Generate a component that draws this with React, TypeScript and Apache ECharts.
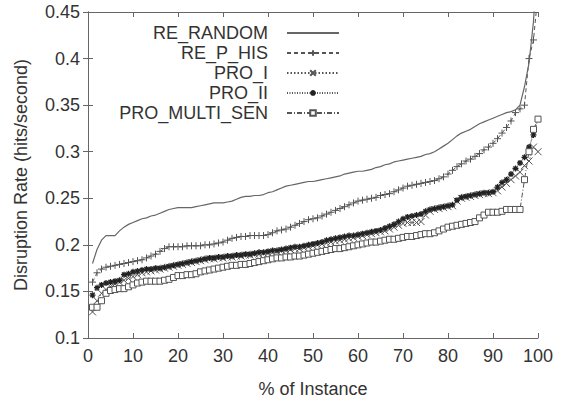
import React, { useEffect, useRef } from "react";
import * as echarts from "echarts";

const instancePct: number[] = Array.from({ length: 100 }, (_, i) => i + 1);

const reRandom: number[] = [
  0.180, 0.195, 0.205, 0.210, 0.210, 0.210, 0.215, 0.219, 0.222, 0.224,
  0.226, 0.228, 0.229, 0.231, 0.232, 0.234, 0.236, 0.238, 0.239, 0.240,
  0.240, 0.240, 0.240, 0.241, 0.242, 0.243, 0.244, 0.245, 0.245, 0.245,
  0.246, 0.247, 0.249, 0.251, 0.252, 0.252, 0.253, 0.253, 0.254, 0.256,
  0.257, 0.259, 0.261, 0.263, 0.264, 0.265, 0.266, 0.267, 0.268, 0.268,
  0.269, 0.270, 0.271, 0.272, 0.273, 0.274, 0.276, 0.277, 0.278, 0.279,
  0.279, 0.280, 0.281, 0.283, 0.284, 0.286, 0.287, 0.289, 0.290, 0.291,
  0.292, 0.293, 0.294, 0.295, 0.297, 0.298, 0.300, 0.303, 0.306, 0.309,
  0.313, 0.317, 0.320, 0.322, 0.324, 0.327, 0.330, 0.332, 0.334, 0.336,
  0.338, 0.340, 0.342, 0.343, 0.345, 0.350, 0.370, 0.395, 0.440, 0.520,
];

const rePHis: number[] = [
  0.160, 0.170, 0.174, 0.176, 0.177, 0.178, 0.179, 0.180, 0.181, 0.182,
  0.183, 0.184, 0.186, 0.188, 0.190, 0.193, 0.196, 0.198, 0.198, 0.198,
  0.198, 0.199, 0.199, 0.199, 0.199, 0.200, 0.200, 0.201, 0.202, 0.203,
  0.205, 0.207, 0.208, 0.209, 0.209, 0.210, 0.210, 0.210, 0.210, 0.211,
  0.213, 0.215, 0.216, 0.217, 0.219, 0.221, 0.223, 0.225, 0.227, 0.228,
  0.229, 0.231, 0.233, 0.235, 0.237, 0.239, 0.241, 0.243, 0.245, 0.247,
  0.248, 0.249, 0.250, 0.251, 0.253, 0.254, 0.255, 0.257, 0.259, 0.261,
  0.263, 0.264, 0.265, 0.266, 0.267, 0.268, 0.269, 0.271, 0.273, 0.276,
  0.280, 0.284, 0.287, 0.290, 0.292, 0.295, 0.298, 0.302, 0.305, 0.309,
  0.314, 0.320, 0.326, 0.333, 0.342, 0.346, 0.350, 0.400, 0.420, 0.470,
];

const proI: number[] = [
  0.128, 0.140, 0.148, 0.152, 0.155, 0.158, 0.160, 0.162, 0.164, 0.166,
  0.168, 0.170, 0.171, 0.172, 0.173, 0.174, 0.175, 0.176, 0.177, 0.178,
  0.179, 0.180, 0.181, 0.182, 0.183, 0.184, 0.185, 0.185, 0.186, 0.186,
  0.187, 0.187, 0.188, 0.188, 0.189, 0.189, 0.190, 0.190, 0.191, 0.191,
  0.192, 0.193, 0.194, 0.194, 0.195, 0.196, 0.196, 0.197, 0.198, 0.199,
  0.200, 0.201, 0.202, 0.203, 0.204, 0.205, 0.206, 0.207, 0.208, 0.209,
  0.210, 0.211, 0.212, 0.213, 0.214, 0.215, 0.217, 0.219, 0.221, 0.223,
  0.224, 0.224, 0.224, 0.225, 0.232, 0.236, 0.238, 0.239, 0.240, 0.241,
  0.242, 0.247, 0.250, 0.251, 0.252, 0.253, 0.254, 0.255, 0.255, 0.256,
  0.258, 0.262, 0.266, 0.270, 0.274, 0.278, 0.285, 0.290, 0.305, 0.300,
];

const proII: number[] = [
  0.146, 0.154, 0.157, 0.159, 0.160, 0.161, 0.162, 0.168, 0.169, 0.171,
  0.172, 0.173, 0.174, 0.174, 0.175, 0.175, 0.176, 0.177, 0.178, 0.179,
  0.180, 0.181, 0.182, 0.183, 0.184, 0.185, 0.186, 0.186, 0.187, 0.187,
  0.188, 0.188, 0.189, 0.189, 0.190, 0.190, 0.191, 0.192, 0.192, 0.193,
  0.194, 0.194, 0.195, 0.196, 0.197, 0.198, 0.198, 0.199, 0.200, 0.201,
  0.202, 0.203, 0.205, 0.206, 0.207, 0.208, 0.209, 0.210, 0.210, 0.211,
  0.212, 0.213, 0.214, 0.215, 0.216, 0.218, 0.220, 0.222, 0.225, 0.228,
  0.230, 0.231, 0.232, 0.233, 0.236, 0.238, 0.239, 0.240, 0.241, 0.242,
  0.243, 0.248, 0.251, 0.252, 0.253, 0.254, 0.255, 0.256, 0.256, 0.257,
  0.262, 0.267, 0.270, 0.276, 0.282, 0.288, 0.294, 0.305, 0.318, 0.335,
];

const proMultiSen: number[] = [
  0.133, 0.133, 0.140, 0.148, 0.151, 0.152, 0.153, 0.153, 0.155, 0.157,
  0.159, 0.160, 0.161, 0.161, 0.161, 0.161, 0.162, 0.163, 0.165, 0.167,
  0.167, 0.168, 0.168, 0.169, 0.171, 0.172, 0.173, 0.174, 0.175, 0.176,
  0.177, 0.178, 0.178, 0.179, 0.179, 0.180, 0.181, 0.182, 0.183, 0.184,
  0.185, 0.186, 0.186, 0.187, 0.187, 0.188, 0.188, 0.189, 0.190, 0.191,
  0.192, 0.193, 0.194, 0.195, 0.196, 0.196, 0.197, 0.198, 0.199, 0.200,
  0.201, 0.202, 0.203, 0.203, 0.204, 0.205, 0.206, 0.206, 0.207, 0.208,
  0.209, 0.209, 0.210, 0.211, 0.212, 0.212, 0.213, 0.215, 0.217, 0.219,
  0.220, 0.221, 0.222, 0.223, 0.224, 0.225, 0.229, 0.232, 0.235, 0.235,
  0.235, 0.236, 0.238, 0.238, 0.238, 0.238, 0.270, 0.300, 0.324, 0.335,
];

const seriesNames: string[] = ["RE_RANDOM", "RE_P_HIS", "PRO_I", "PRO_II", "PRO_MULTI_SEN"];
const xTicks = { min: 0, max: 100, interval: 10 };
const yTicks = { min: 0.1, max: 0.45, interval: 0.05 };

const FONT = "'Liberation Sans', Arial, Helvetica, sans-serif";
const INK = "#333";
const LINE = "#555";

const pair = (vals: number[]) => vals.map((v, i) => [instancePct[i], v]);

export default function App() {
  const ref = useRef<HTMLDivElement>(null);
  useEffect(() => {
    if (!ref.current) return;
    const chart = echarts.init(ref.current, undefined, { renderer: "svg" });
    const symbolStyle = { color: "transparent", borderColor: LINE, borderWidth: 1 };
    const baseAxisLine = { show: true, lineStyle: { color: "#666", width: 1 } };
    const tick = { show: true, inside: true, length: 5, lineStyle: { color: "#666" } };
    chart.setOption({
      animation: false,
      backgroundColor: "#fff",
      grid: { left: 88, right: 33, top: 12, bottom: 58, containLabel: false },
      legend: {
        orient: "vertical",
        align: "right",
        right: 226,
        top: 19,
        itemWidth: 52,
        itemHeight: 7,
        itemGap: 2,
        data: seriesNames,
        textStyle: { fontFamily: FONT, fontSize: 18, color: INK, lineHeight: 18, padding: [0, 14, 0, 0] },
      },
      xAxis: [
        {
          type: "value",
          ...xTicks,
          position: "bottom",
          name: "% of Instance",
          nameLocation: "middle",
          nameGap: 42,
          nameTextStyle: { fontFamily: FONT, fontSize: 18, color: INK },
          axisLine: baseAxisLine,
          axisTick: tick,
          splitLine: { show: false },
          axisLabel: { fontFamily: FONT, fontSize: 18, color: INK, margin: 9 },
        },
        {
          type: "value",
          ...xTicks,
          position: "top",
          axisLine: baseAxisLine,
          axisTick: tick,
          splitLine: { show: false },
          axisLabel: { show: false },
        },
      ],
      yAxis: [
        {
          type: "value",
          ...yTicks,
          position: "left",
          name: "Disruption Rate (hits/second)",
          nameLocation: "middle",
          nameGap: 58,
          nameTextStyle: { fontFamily: FONT, fontSize: 18, color: INK },
          axisLine: baseAxisLine,
          axisTick: tick,
          splitLine: { show: false },
          axisLabel: {
            fontFamily: FONT,
            fontSize: 18,
            color: INK,
            margin: 8,
            formatter: (v: number) => String(Number(v.toFixed(2))),
          },
        },
        {
          type: "value",
          ...yTicks,
          position: "right",
          axisLine: baseAxisLine,
          axisTick: tick,
          splitLine: { show: false },
          axisLabel: { show: false },
        },
      ],
      series: [
        {
          name: seriesNames[0],
          type: "line",
          data: pair(reRandom),
          showSymbol: false,
          symbol: "rect",
          symbolSize: 0,
          color: "#666",
          itemStyle: { color: "transparent", borderColor: "transparent", borderWidth: 0 },
          lineStyle: { color: "#666", width: 1.2, type: "solid" },
          clip: true,
          z: 5,
        },
        {
          name: seriesNames[1],
          type: "line",
          data: pair(rePHis),
          symbol: "path://M0,5L10,5M5,0L5,10",
          symbolSize: 7,
          color: LINE,
          itemStyle: symbolStyle,
          lineStyle: { color: LINE, width: 1, type: [4, 3] },
          clip: true,
        },
        {
          name: seriesNames[2],
          type: "line",
          data: pair(proI),
          symbol: "path://M0,0L10,10M10,0L0,10",
          symbolSize: 7,
          color: LINE,
          itemStyle: symbolStyle,
          lineStyle: { color: LINE, width: 1, type: [1.5, 2] },
          clip: true,
        },
        {
          name: seriesNames[3],
          type: "line",
          data: pair(proII),
          symbol: "path://M0,5L10,5M5,0L5,10M1.5,1.5L8.5,8.5M8.5,1.5L1.5,8.5",
          symbolSize: 6,
          color: "#222",
          itemStyle: { color: "transparent", borderColor: "#222", borderWidth: 1.3 },
          lineStyle: { color: LINE, width: 1, type: [1, 1.5] },
          clip: true,
        },
        {
          name: seriesNames[4],
          type: "line",
          data: pair(proMultiSen),
          symbol: "rect",
          symbolSize: 6,
          color: LINE,
          itemStyle: { color: "#fff", borderColor: LINE, borderWidth: 1 },
          lineStyle: { color: LINE, width: 1, type: [5, 2, 1, 2] },
          clip: true,
        },
      ],
    });
    return () => chart.dispose();
  }, []);
  return <div ref={ref} style={{ width: 571, height: 403, position: "absolute", left: 0, top: 0 }} />;
}
